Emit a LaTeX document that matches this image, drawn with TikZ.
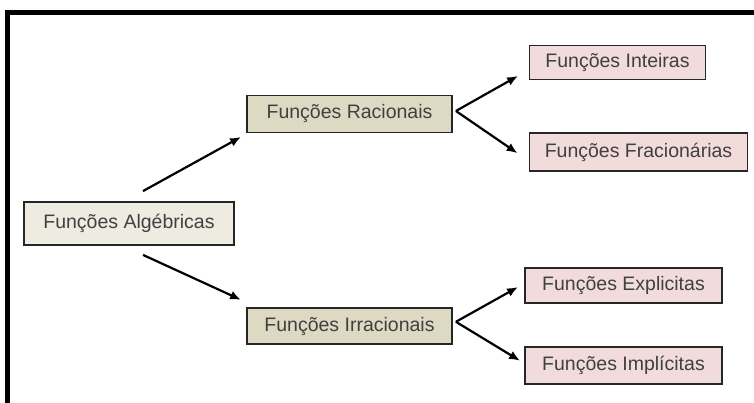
\documentclass[tikz,border=0pt]{standalone}
\usepackage{fontspec}
\setmainfont{Liberation Sans}
\usetikzlibrary{positioning,arrows.meta}
\definecolor{cream}{HTML}{EEECE1}
\definecolor{sand}{HTML}{DDD9C3}
\definecolor{rose}{HTML}{F2DCDB}
\definecolor{ink}{HTML}{404040}
\begin{document}
\begin{tikzpicture}[x=1pt,y=1pt,
		box/.style={rectangle,draw=black!85,line width=1.8pt,text=ink,inner sep=0pt,font=\fontsize{19.5}{22}\selectfont},
		creambox/.style={box,fill=cream},
		sandbox/.style={box,fill=sand},
		rosebox/.style={box,fill=rose},
		arr/.style={line width=2.2pt,-{Latex[length=11pt,width=9pt]}}]
		\useasboundingbox (0,0) rectangle (754,403);
		\draw[line width=5pt] (7.5,0) -- (7.5,390) -- (754,390);

		\node[creambox,minimum width=210pt,minimum height=43pt]	(alg)	at (129,179.5)	{Funções Algébricas};
		\node[sandbox,minimum width=205pt,minimum height=37pt]	(rac)	at (349.5,289)	{Funções Racionais};
		\node[sandbox,minimum width=205pt,minimum height=36pt,node distance=174pt,below=of rac]	(irr)	{Funções Irracionais};

		\node[rosebox,minimum width=176pt,minimum height=34pt]	(int)	at (617.5,340.5)	{Funções Inteiras};
		\node[rosebox,minimum width=218pt,minimum height=38pt,below=52pt of int.south west,anchor=north west]	(fra)	{Funções Fracionárias};
		\node[rosebox,minimum width=197pt,minimum height=35pt]	(exp)	at (623.5,117.5)	{Funções Explicitas};
		\node[rosebox,minimum width=197pt,minimum height=37pt,below=42pt of exp.south west,anchor=north west]	(imp)	{Funções Implícitas};

		\draw[arr] ([shift={(14,10)}]alg.north) -- ([shift={(-5,-3.5)}]rac.south west);
		\draw[arr] ([shift={(14,-9)}]alg.south) -- ([shift={(-5,7.5)}]irr.north west);
		\draw[arr] ([shift={(3,3)}]rac.east) -- ([shift={(-10.5,4.5)}]int.south west);
		\draw[arr] ([shift={(3,3)}]rac.east) -- ([shift={(-11,-1)}]fra.west);
		\draw[arr] ([shift={(3,4.5)}]irr.east) -- ([shift={(-6,-1.5)}]exp.west);
		\draw[arr] ([shift={(3,4.5)}]irr.east) -- ([shift={(-4,4.5)}]imp.west);
	\end{tikzpicture}
\end{document}
